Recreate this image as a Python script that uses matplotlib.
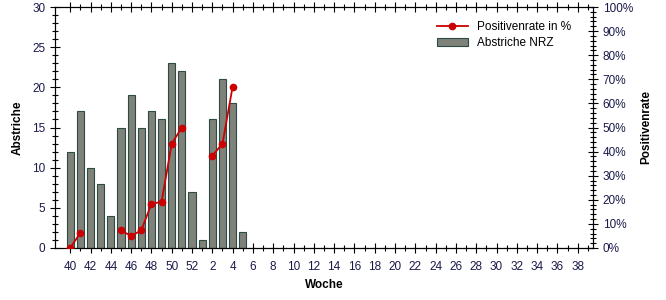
import numpy as np
import matplotlib.pyplot as plt
import matplotlib.ticker as mtick

plt.rcParams['font.family'] = ['Liberation Sans', 'DejaVu Sans']

# weeks of the season 40..52, 1..39
weeks = list(range(40, 53)) + list(range(1, 40))
abstriche = [12, 17, 10, 8, 4, 15, 19, 15, 17, 16, 23, 22, 7,
             1, 16, 21, 18, 2] + [0] * 34
positiv = [0.0, 6.3, np.nan, np.nan, np.nan, 7.3, 5.0, 7.3, 18.3, 19.2, 43.3, 50.0, np.nan,
           np.nan, 38.3, 43.3, 67.0] + [np.nan] * 35

x = np.arange(len(weeks))
lblcol = '#1a1a4a'

fig = plt.figure(figsize=(6.66, 3.0), dpi=100)
ax = fig.add_axes([55/666, 1-248/300, (593-55)/666, 241/300])
ax2 = ax.twinx()

bars = ax.bar(x, abstriche, width=0.7, color='#7f8279', edgecolor='#2e4a44',
              linewidth=0.8, label='Abstriche NRZ', zorder=2)
ln, = ax2.plot(x, positiv, color='#cc0000', marker='o', markersize=4.5,
               linewidth=1.3, label='Positivenrate in %', zorder=3)

ax.set_xlim(-1.5, 51.5)
ax.set_ylim(0, 30)
ax2.set_ylim(0, 100)

ax.set_xticks(x[::2])
ax.set_xticklabels([str(w) for w in weeks[::2]])
ax.set_xticks(x, minor=True)
ax.yaxis.set_major_locator(mtick.MultipleLocator(5))
ax.yaxis.set_minor_locator(mtick.MultipleLocator(1))
ax2.yaxis.set_major_locator(mtick.MultipleLocator(10))
ax2.yaxis.set_minor_locator(mtick.MultipleLocator(2))
ax2.yaxis.set_major_formatter(mtick.FuncFormatter(lambda v, p: '%d%%' % v))

ax.tick_params(axis='both', which='major', direction='inout', length=7, width=0.8,
               labelsize=8.5, labelcolor=lblcol)
ax.tick_params(axis='both', which='minor', direction='inout', length=4, width=0.8)
ax.tick_params(axis='x', which='both', top=True, pad=6)
ax2.tick_params(which='major', direction='inout', length=7, width=0.8,
                labelsize=8.5, labelcolor=lblcol)
ax2.tick_params(which='minor', direction='inout', length=4, width=0.8)

for a in (ax, ax2):
    for s in a.spines.values():
        s.set_linewidth(0.8)

ax.set_xlabel('Woche', fontsize=8.5, fontweight='bold', labelpad=4)
ax.set_ylabel('Abstriche', fontsize=8.5, fontweight='bold', labelpad=6)
ax2.set_ylabel('Positivenrate', fontsize=8.5, fontweight='bold', labelpad=5)

ax2.legend([ln, bars], ['Positivenrate in %', 'Abstriche NRZ'], loc='upper right',
           bbox_to_anchor=(0.975, 0.975), frameon=False, fontsize=8.5,
           handlelength=2.6, borderpad=0.2, labelspacing=0.3)

fig.savefig('out.png', dpi=100)
